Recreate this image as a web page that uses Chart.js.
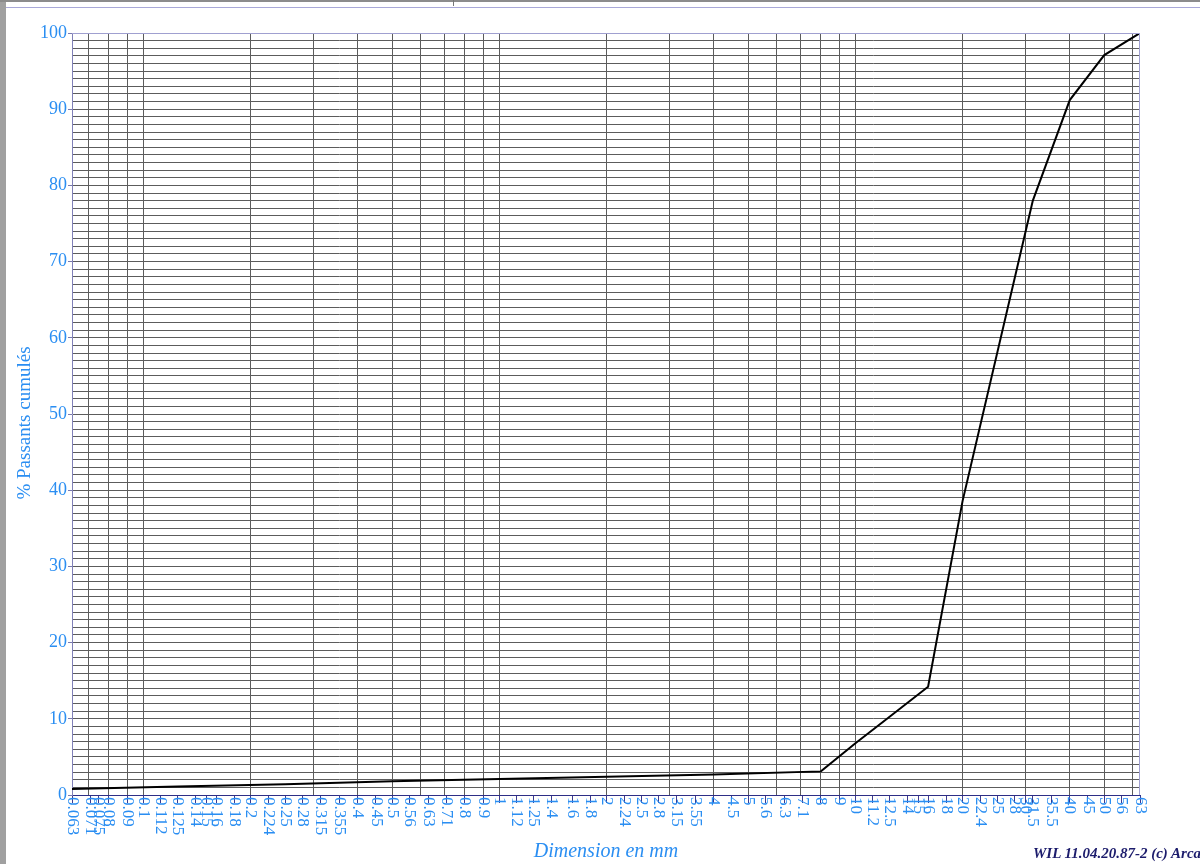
<!DOCTYPE html>
<html>
<head>
<meta charset="utf-8">
<script src="https://cdn.jsdelivr.net/npm/chart.js@4.4.1/dist/chart.umd.min.js"></script>
<style>
  html, body { margin: 0; padding: 0; background: #fff; overflow: hidden; }
  #wrap { position: relative; width: 1200px; height: 864px; overflow: hidden; }
  #leftStrip { position: absolute; left: 0; top: 0; width: 6px; height: 864px; background: #a0a0a0; }
  #topBand { position: absolute; left: 0; top: 0; width: 1200px; height: 2px; background: #8c8c8c; }
  #topLine { position: absolute; left: 6px; top: 7px; width: 1194px; height: 1px; background: #a8a8d8; }
  #topMark { position: absolute; left: 453px; top: 0; width: 1px; height: 6px; background: #777; }
  #stamp { position: absolute; left: 1033px; top: 845px; white-space: nowrap;
           font: italic bold 15px "Liberation Serif", serif; color: #1c1c6c; }
</style>
</head>
<body>
<div id="wrap">
  <canvas id="granuloChart"></canvas>
  <div id="leftStrip"></div>
  <div id="topBand"></div>
  <div id="topLine"></div>
  <div id="topMark"></div>
  <div id="stamp">WIL 11.04.20.87-2 (c) Arcadia</div>
</div>
<script>
// sieve sizes shown as tick labels (mm)
const sieveLabels = ['0.063', '0.071', '0.075', '0.08', '0.09', '0.1', '0.112', '0.125', '0.14', '0.15',
  '0.16', '0.18', '0.2', '0.224', '0.25', '0.28', '0.315', '0.355', '0.4', '0.45', '0.5', '0.56',
  '0.63', '0.71', '0.8', '0.9', '1', '1.12', '1.25', '1.4', '1.6', '1.8', '2', '2.24', '2.5', '2.8',
  '3.15', '3.55', '4', '4.5', '5', '5.6', '6.3', '7.1', '8', '9', '10', '11.2', '12.5', '14', '15',
  '16', '18', '20', '22.4', '25', '28', '30', '31.5', '35.5', '40', '45', '50', '56', '63'];

// vertical grid lines (log paper)
const gridValues = [0.07, 0.08, 0.09, 0.1, 0.2, 0.3, 0.4, 0.5, 0.6, 0.7, 0.8, 0.9,
  1, 2, 3, 4, 5, 6, 7, 8, 9, 10, 20, 30, 40, 50, 60];

// grading curve
const sizes = [0.063, 0.125, 0.25, 0.5, 1, 2, 4, 8, 10, 12.5, 16, 20, 31.5, 40, 50, 63];
const passing = [0.8, 1.1, 1.4, 1.8, 2.1, 2.4, 2.7, 3.1, 6.8, 10.3, 14.2, 38.6, 78, 91.2, 97.1, 100];

const yTicks = [];
for (let i = 0; i <= 100; i++) yTicks.push(i);

const blue = '#2a8ef2';
const gridGrey = '#5c5c5c';
Chart.defaults.font.family = '"Liberation Serif", "Times New Roman", serif';

// labels read downwards from the axis, so they are drawn here
const sieveLabelPlugin = {
  id: 'sieveLabels',
  afterDraw(chart) {
    const { ctx, chartArea: a } = chart;
    const x = chart.scales.x;
    ctx.save();
    ctx.strokeStyle = '#a0a0d0';
    ctx.lineWidth = 1;
    ctx.beginPath();
    ctx.moveTo(a.left, a.top + 0.5);
    ctx.lineTo(a.right, a.top + 0.5);
    ctx.moveTo(a.right - 0.5, a.top);
    ctx.lineTo(a.right - 0.5, a.bottom);
    ctx.stroke();

    ctx.fillStyle = blue;
    ctx.font = '17px "Liberation Serif", serif';
    ctx.textAlign = 'left';
    ctx.textBaseline = 'middle';
    sieveLabels.forEach(lbl => {
      const px = x.getPixelForValue(parseFloat(lbl));
      ctx.save();
      ctx.translate(px, a.bottom + 2);
      ctx.rotate(Math.PI / 2);
      ctx.fillText(lbl, 0, 0);
      ctx.restore();
    });

    // y axis title, a bit below the middle as in the original
    ctx.font = '19px "Liberation Serif", serif';
    ctx.textAlign = 'center';
    ctx.save();
    ctx.translate(25, 423);
    ctx.rotate(-Math.PI / 2);
    ctx.fillText('% Passants cumulés', 0, 0);
    ctx.restore();
    ctx.restore();
  }
};

const ctx = document.getElementById('granuloChart').getContext('2d');
const granuloChart = new Chart(ctx, {
  type: 'line',
  data: {
    datasets: [{
      data: sizes.map((s, i) => ({ x: s, y: passing[i] })),
      borderColor: '#000',
      borderWidth: 2,
      pointRadius: 0,
      tension: 0,
      fill: false
    }]
  },
  options: {
    responsive: true,
    maintainAspectRatio: false,
    animation: false,
    layout: { padding: { top: 33, right: 60, left: 0, bottom: 0 } },
    plugins: { legend: { display: false }, tooltip: { enabled: false } },
    scales: {
      x: {
        type: 'logarithmic',
        position: 'bottom',
        min: 0.063,
        max: 63,
        afterBuildTicks: s => { s.ticks = sieveLabels.map(l => ({ value: parseFloat(l) })); },
        afterFit: s => { s.height = 69; },
        grid: { drawOnChartArea: false, tickLength: 8, tickColor: '#3a3a90' },
        border: { color: '#2e2e86', width: 1 },
        ticks: { display: false },
        title: {
          display: true,
          text: 'Dimension en mm',
          color: blue,
          font: { size: 20, style: 'italic' },
          padding: { top: 0, bottom: 0 }
        }
      },
      xGrid: {
        type: 'logarithmic',
        position: 'bottom',
        min: 0.063,
        max: 63,
        afterBuildTicks: s => { s.ticks = gridValues.map(v => ({ value: v })); },
        afterFit: s => { s.height = 0; },
        grid: { color: gridGrey, drawTicks: false },
        border: { display: false },
        ticks: { display: false }
      },
      y: {
        min: 0,
        max: 100,
        afterBuildTicks: s => { s.ticks = yTicks.map(v => ({ value: v })); },
        afterFit: s => { s.width = 72; },
        grid: {
          color: c => (c.tick && c.tick.value === 100) ? '#a0a0d0' : gridGrey,
          tickLength: 4,
          tickColor: c => (c.tick && c.tick.value % 10 === 0) ? '#7a7ab0' : 'rgba(0,0,0,0)'
        },
        border: { color: '#8080b8', width: 1 },
        ticks: {
          autoSkip: false,
          padding: 1,
          color: blue,
          font: { size: 18 },
          callback: v => (v % 10 === 0 ? v : '')
        }
      }
    }
  },
  plugins: [sieveLabelPlugin]
});
</script>
</body>
</html>
